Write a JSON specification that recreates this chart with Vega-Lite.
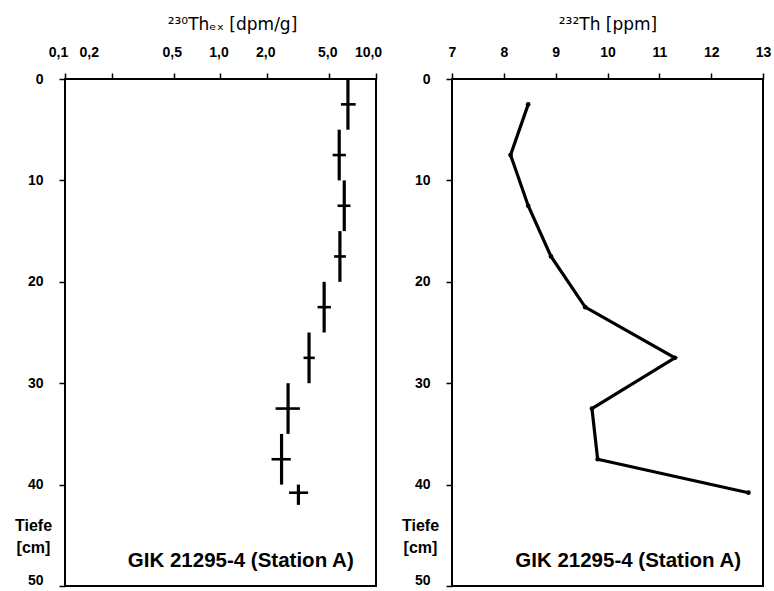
{
  "$schema": "https://vega.github.io/schema/vega-lite/v6.json",
  "background": "white",
  "padding": {"left": 13, "top": 14, "right": 5, "bottom": 0},
  "bounds": "flush",
  "spacing": 76,
  "config": {
    "font": "Liberation Sans",
    "view": {"stroke": "black", "strokeWidth": 2},
    "axis": {
      "domain": false,
      "grid": false,
      "tickColor": "black",
      "tickWidth": 1.5,
      "tickSize": 6,
      "labelColor": "black",
      "labelFontWeight": "bold",
      "labelFontSize": 14,
      "labelFlush": false,
      "labelOverlap": false,
      "titleColor": "black"
    }
  },
  "datasets": {
    "th230": [
      {"d": 2.5, "top": 0, "bot": 5, "v": 6.6, "lo": 5.95, "hi": 7.4},
      {"d": 7.5, "top": 5, "bot": 10, "v": 5.8, "lo": 5.26, "hi": 6.4},
      {"d": 12.5, "top": 10, "bot": 15, "v": 6.25, "lo": 5.66, "hi": 6.85},
      {"d": 17.5, "top": 15, "bot": 20, "v": 5.86, "lo": 5.38, "hi": 6.4},
      {"d": 22.5, "top": 20, "bot": 25, "v": 4.64, "lo": 4.21, "hi": 5.13},
      {"d": 27.5, "top": 25, "bot": 30, "v": 3.71, "lo": 3.42, "hi": 4.04},
      {"d": 32.5, "top": 30, "bot": 35, "v": 2.72, "lo": 2.26, "hi": 3.24},
      {"d": 37.5, "top": 35, "bot": 40, "v": 2.47, "lo": 2.13, "hi": 2.83},
      {"d": 40.8, "top": 40, "bot": 42, "v": 3.17, "lo": 2.76, "hi": 3.66}
    ],
    "th232": [
      {"d": 2.5, "v": 8.47},
      {"d": 7.5, "v": 8.13},
      {"d": 12.5, "v": 8.47},
      {"d": 17.5, "v": 8.91},
      {"d": 22.5, "v": 9.57},
      {"d": 27.5, "v": 11.3},
      {"d": 32.5, "v": 9.7},
      {"d": 37.5, "v": 9.81},
      {"d": 40.8, "v": 12.72}
    ]
  },
  "hconcat": [
    {
      "width": 311,
      "height": 507,
      "layer": [
        {
          "data": {"name": "th230"},
          "mark": {"type": "rule", "color": "black", "strokeWidth": 3.2},
          "encoding": {
            "x": {
              "field": "v", "type": "quantitative",
              "scale": {"type": "log", "domain": [0.1, 10], "nice": false},
              "axis": {
                "orient": "top",
                "values": [0.1, 0.2, 0.5, 1, 2, 5, 10],
                "labelExpr": "replace(format(datum.value, '.1f'), '.', ',')",
                "labelOffset": {"condition": [{"test": "datum.value < 0.15", "value": -7}, {"test": "datum.value < 0.3", "value": -23}, {"test": "datum.value > 9", "value": -8}], "value": -2},
                "labelPadding": 14,
                "labelFontSize": 14,
                "title": "²³⁰Thₑₓ [dpm/g]",
                "titleFont": "DejaVu Sans",
                "titleFontSize": 17,
                "titleFontWeight": "normal",
                "titlePadding": 12,
                "titleX": 167
              }
            },
            "y": {
              "field": "top", "type": "quantitative",
              "scale": {"domain": [0, 50], "reverse": true, "nice": false},
              "axis": {
                "values": [0, 10, 20, 30, 40, 50],
                "labelPadding": 16,
                "labelOffset": {"condition": {"test": "datum.value == 50", "value": -6}, "value": 0},
                "title": ["Tiefe", "[cm]"],
                "titleAngle": 0,
                "titleAlign": "center",
                "titleBaseline": "top",
                "titleX": -32,
                "titleY": 438,
                "titleFontSize": 16,
                "titleFontWeight": "bold",
                "titleLineHeight": 22
              }
            },
            "y2": {"field": "bot"}
          }
        },
        {
          "data": {"name": "th230"},
          "mark": {"type": "rule", "color": "black", "strokeWidth": 2.6},
          "encoding": {
            "x": {"field": "lo", "type": "quantitative"},
            "x2": {"field": "hi"},
            "y": {"field": "d", "type": "quantitative"}
          }
        },
        {
          "data": {"values": [{"label": "GIK 21295-4 (Station A)"}]},
          "mark": {"type": "text", "fontSize": 20.5, "fontWeight": "bold", "align": "center", "baseline": "middle", "color": "black"},
          "encoding": {
            "x": {"datum": 1.35},
            "y": {"datum": 47.5},
            "text": {"field": "label"}
          }
        }
      ]
    },
    {
      "width": 311,
      "height": 507,
      "layer": [
        {
          "data": {"name": "th232"},
          "mark": {"type": "line", "color": "black", "strokeWidth": 3.2, "point": {"filled": true, "color": "black", "size": 22}},
          "encoding": {
            "x": {
              "field": "v", "type": "quantitative",
              "scale": {"domain": [7, 13], "nice": false, "zero": false},
              "axis": {
                "orient": "top",
                "values": [7, 8, 9, 10, 11, 12, 13],
                "labelPadding": 14,
                "labelFontSize": 14,
                "title": "²³²Th [ppm]",
                "titleFont": "DejaVu Sans",
                "titleFontSize": 17,
                "titleFontWeight": "normal",
                "titlePadding": 12
              }
            },
            "y": {
              "field": "d", "type": "quantitative",
              "scale": {"domain": [0, 50], "reverse": true, "nice": false},
              "axis": {
                "values": [0, 10, 20, 30, 40, 50],
                "labelPadding": 16,
                "labelOffset": {"condition": {"test": "datum.value == 50", "value": -6}, "value": 0},
                "title": ["Tiefe", "[cm]"],
                "titleAngle": 0,
                "titleAlign": "center",
                "titleBaseline": "top",
                "titleX": -32,
                "titleY": 438,
                "titleFontSize": 16,
                "titleFontWeight": "bold",
                "titleLineHeight": 22
              }
            },
            "order": {"field": "d", "type": "quantitative"}
          }
        },
        {
          "data": {"values": [{"label": "GIK 21295-4 (Station A)"}]},
          "mark": {"type": "text", "fontSize": 20.5, "fontWeight": "bold", "align": "center", "baseline": "middle", "color": "black"},
          "encoding": {
            "x": {"datum": 10.4},
            "y": {"datum": 47.5},
            "text": {"field": "label"}
          }
        }
      ]
    }
  ]
}
